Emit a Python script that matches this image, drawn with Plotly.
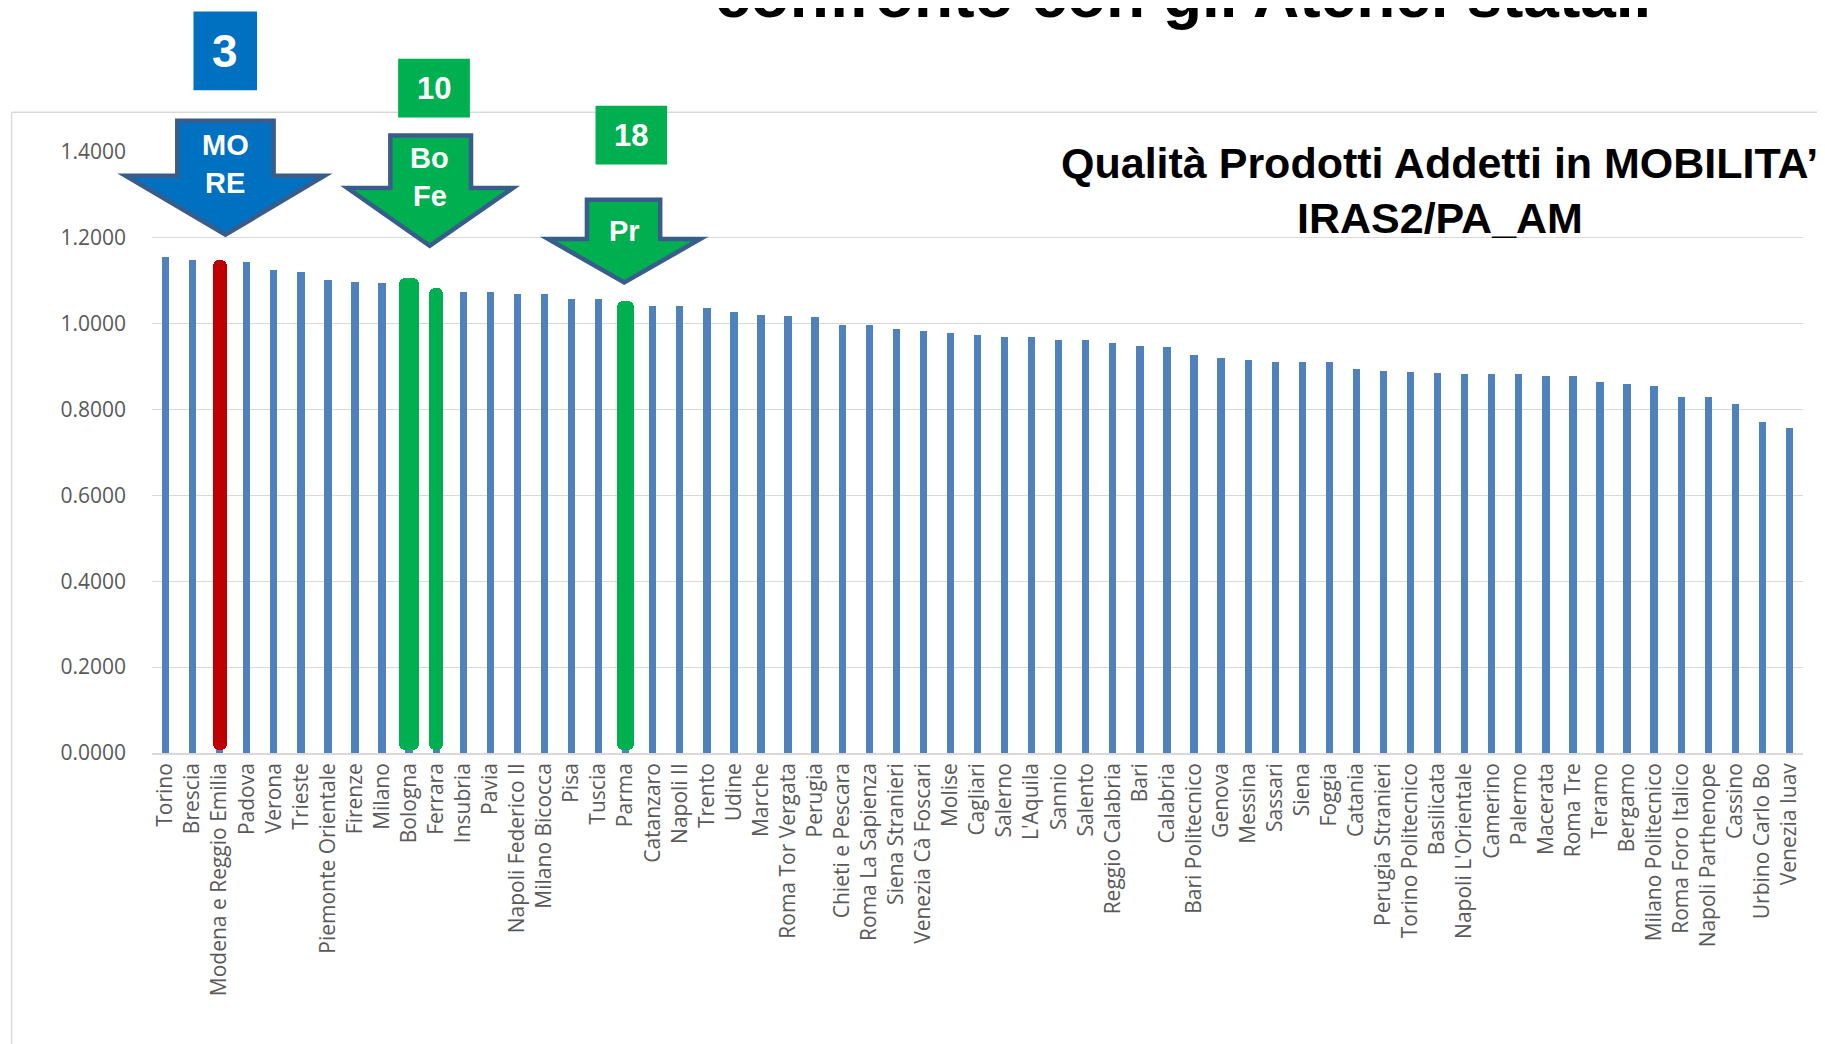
import plotly.graph_objects as go

categories = [
    "Torino", "Brescia", "Modena e Reggio Emilia", "Padova", "Verona", "Trieste",
    "Piemonte Orientale", "Firenze", "Milano", "Bologna", "Ferrara", "Insubria",
    "Pavia", "Napoli Federico II", "Milano Bicocca", "Pisa", "Tuscia", "Parma",
    "Catanzaro", "Napoli II", "Trento", "Udine", "Marche", "Roma Tor Vergata",
    "Perugia", "Chieti e Pescara", "Roma La Sapienza", "Siena Stranieri",
    "Venezia Cà Foscari", "Molise", "Cagliari", "Salerno", "L'Aquila", "Sannio",
    "Salento", "Reggio Calabria", "Bari", "Calabria", "Bari Politecnico", "Genova",
    "Messina", "Sassari", "Siena", "Foggia", "Catania", "Perugia Stranieri",
    "Torino Politecnico", "Basilicata", "Napoli L'Orientale", "Camerino", "Palermo",
    "Macerata", "Roma Tre", "Teramo", "Bergamo", "Milano Politecnico",
    "Roma Foro Italico", "Napoli Parthenope", "Cassino", "Urbino Carlo Bo",
    "Venezia Iuav",
]

values = [
    1.156, 1.149, 1.148, 1.143, 1.125, 1.120, 1.102, 1.098, 1.096, 1.107,
    1.084, 1.074, 1.074, 1.069, 1.069, 1.057, 1.057, 1.054, 1.042, 1.042,
    1.036, 1.027, 1.021, 1.018, 1.015, 0.997, 0.997, 0.988, 0.984, 0.978,
    0.973, 0.970, 0.970, 0.963, 0.963, 0.955, 0.949, 0.946, 0.928, 0.919,
    0.915, 0.910, 0.910, 0.910, 0.895, 0.891, 0.888, 0.886, 0.883, 0.883,
    0.883, 0.879, 0.879, 0.864, 0.859, 0.856, 0.829, 0.829, 0.813, 0.771,
    0.757,
]

highlight_names = ["Modena e Reggio Emilia", "Bologna", "Ferrara", "Parma"]
highlight_colors = ["#C00000", "#00B050", "#00B050", "#00B050"]
highlight_widths = [0.52, 0.74, 0.53, 0.65]

y_ticks = [0.0, 0.2, 0.4, 0.6, 0.8, 1.0, 1.2, 1.4]
y_tick_labels = [f"{v:.4f}" for v in y_ticks]

title_lines = ["Qualità Prodotti Addetti in MOBILITA’", "IRAS2/PA_AM"]
top_title = "confronto con gli Atenei statali"

# ---- layout geometry (pixels, in reference-screenshot coordinates) ----
FW, FH = 1825, 1044
PAGE_OFF = 8  # default body margin of the html page
L, R, T, B = 151.5, 1803.5, 152.3, 752.9
W, H = R - L, B - T


def px(x):
    return (x - L) / W


def py(y):
    return (B - y) / H


hl_vals = [values[categories.index(n)] for n in highlight_names]

fig = go.Figure()
fig.add_trace(go.Bar(
    x=categories, y=values, width=0.27,
    marker=dict(color="#4F81BD", line=dict(width=0)),
    hoverinfo="x+y", showlegend=False,
))
fig.add_trace(go.Bar(
    x=highlight_names, y=[v - 0.006 for v in hl_vals], base=0.006,
    width=highlight_widths,
    marker=dict(color=highlight_colors, line=dict(width=0), cornerradius=6),
    hoverinfo="x+y", showlegend=False,
))

shapes = []
# chart area border
shapes.append(dict(type="line", xref="paper", yref="paper",
                   x0=px(11), x1=px(1840), y0=py(112.5), y1=py(112.5),
                   line=dict(color="#D9D9D9", width=1.5), layer="below"))
shapes.append(dict(type="line", xref="paper", yref="paper",
                   x0=px(11), x1=px(11), y0=py(112.5), y1=py(1060),
                   line=dict(color="#D9D9D9", width=1.5), layer="below"))


def arrow_path(sx0, sx1, top, wy, wx0, wx1, tipx, tipy):
    pts = [(sx0, top), (sx1, top), (sx1, wy), (wx1, wy), (tipx, tipy),
           (wx0, wy), (sx0, wy)]
    return "M " + " L ".join(f"{px(a):.5f},{py(b):.5f}" for a, b in pts) + " Z"


OUTLINE = "#385D8A"
arrows = [
    # shaft x0, x1, top, wings y, wing x0, wing x1, tip x, tip y, fill
    (176.8, 273.2, 121, 176, 125, 324, 225, 235, "#0070C0"),
    (390, 470.7, 135.7, 188.3, 347, 512.6, 429.4, 246, "#00B050"),
    (586.7, 660, 200, 239.3, 548, 700, 624, 282.7, "#00B050"),
]
for a in arrows:
    shapes.append(dict(type="path", xref="paper", yref="paper",
                       path=arrow_path(*a[:8]), fillcolor=a[8],
                       line=dict(color=OUTLINE, width=4.5), layer="above"))

badges = [
    (193, 256.6, 12, 90.7, "#0070C0", "3", 46),
    (397.8, 469.6, 59, 117.7, "#00B050", "10", 31),
    (595.3, 667, 106, 164.7, "#00B050", "18", 31),
]
for x0, x1, y0, y1, c, _, _ in badges:
    shapes.append(dict(type="rect", xref="paper", yref="paper",
                       x0=px(x0), x1=px(x1), y0=py(y1), y1=py(y0),
                       fillcolor=c, line=dict(width=0), layer="above"))

annotations = []
LABEL_FONT = "Liberation Sans, Arial, sans-serif"
for x0, x1, y0, y1, c, txt, sz in badges:
    annotations.append(dict(xref="paper", yref="paper",
                            x=px((x0 + x1) / 2), y=py((y0 + y1) / 2),
                            text=f"<b>{txt}</b>", showarrow=False,
                            font=dict(family=LABEL_FONT, size=sz, color="white"),
                            xanchor="center", yanchor="middle"))

arrow_texts = [
    (225, 145, "MO"), (225, 183, "RE"),
    (429.4, 158, "Bo"), (429.4, 196, "Fe"),
    (624, 231, "Pr"),
]
for x, y, txt in arrow_texts:
    annotations.append(dict(xref="paper", yref="paper", x=px(x), y=py(y),
                            text=f"<b>{txt}</b>", showarrow=False,
                            font=dict(family=LABEL_FONT, size=29, color="white"),
                            xanchor="center", yanchor="middle"))

annotations.append(dict(xref="paper", yref="paper", x=px(1440), y=py(163),
                        text=f"<b>{title_lines[0]}</b>", showarrow=False,
                        font=dict(family=LABEL_FONT, size=43, color="black"),
                        xanchor="center", yanchor="middle"))
annotations.append(dict(xref="paper", yref="paper", x=px(1440), y=py(218),
                        text=f"<b>{title_lines[1]}</b>", showarrow=False,
                        font=dict(family=LABEL_FONT, size=43, color="black"),
                        xanchor="center", yanchor="middle"))
annotations.append(dict(xref="paper", yref="paper", x=px(1183), y=py(-5),
                        text=f"<b>{top_title}</b>", showarrow=False,
                        font=dict(family=LABEL_FONT, size=64, color="black"),
                        xanchor="center", yanchor="middle"))

fig.update_layout(
    width=FW, height=FH,
    margin=dict(l=L - PAGE_OFF, r=FW - (R - PAGE_OFF), t=T - PAGE_OFF,
                b=FH - (B - PAGE_OFF), autoexpand=False),
    paper_bgcolor="white", plot_bgcolor="white",
    barmode="overlay", bargap=0,
    shapes=shapes, annotations=annotations,
    xaxis=dict(
        type="category", tickangle=-90, showgrid=False,
        tickfont=dict(family="Open Sans, sans-serif", size=21, color="#595959"),
        showline=True, linecolor="#D9D9D9", linewidth=1.5,
        ticks="", ticklabelstandoff=0,
        range=[-0.5, len(categories) - 0.5],
    ),
    yaxis=dict(
        range=[0, 1.4], tickvals=y_ticks, ticktext=y_tick_labels,
        showgrid=True, gridcolor="#D9D9D9", gridwidth=1.3,
        zeroline=False, showline=False,
        tickfont=dict(family="Open Sans, sans-serif", size=21, color="#595959"),
        ticklabelstandoff=25,
    ),
)

fig.write_html("out.html")
